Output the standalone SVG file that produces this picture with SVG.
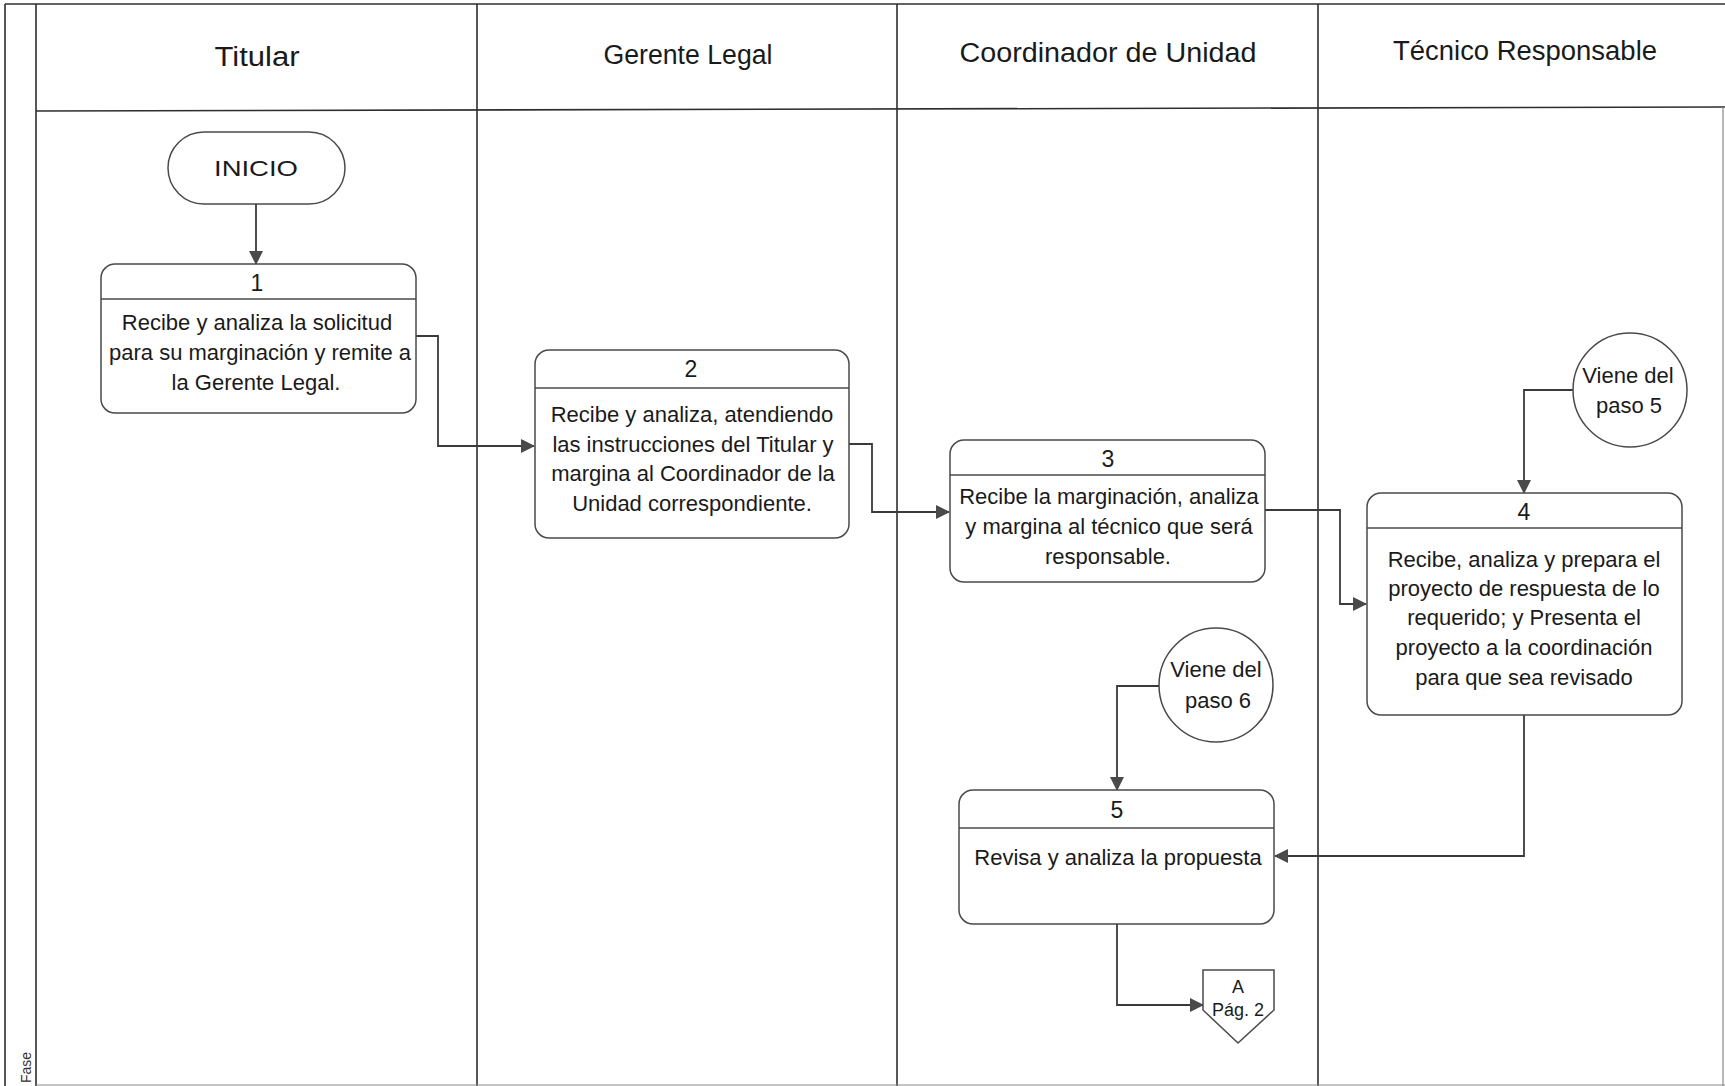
<svg xmlns="http://www.w3.org/2000/svg" width="1725" height="1086" viewBox="0 0 1725 1086">
  <style>
    .lane { stroke: #2e2e2e; stroke-width: 1.6; fill: none; }
    .lane-faint { stroke: #8a8a8a; stroke-width: 1.2; fill: none; }
    .hdr { font-family: "Liberation Sans", Arial, sans-serif; font-size: 27px; fill: #1a1a1a; text-anchor: middle; }
    .box { fill: #ffffff; stroke: #4a4a4a; stroke-width: 1.5; }
    .div { stroke: #4a4a4a; stroke-width: 1.5; }
    .num { font-family: "Liberation Sans", Arial, sans-serif; font-size: 23px; fill: #1a1a1a; text-anchor: middle; }
    .txt { font-family: "Liberation Sans", Arial, sans-serif; font-size: 22px; fill: #1a1a1a; text-anchor: middle; }
    .small { font-family: "Liberation Sans", Arial, sans-serif; font-size: 18px; fill: #1a1a1a; text-anchor: middle; }
    .conn { stroke: #3a3a3a; stroke-width: 1.8; fill: none; }
    .fase { font-family: "Liberation Sans", Arial, sans-serif; font-size: 14px; fill: #333333; }
  </style>
  <defs>
    <marker id="arrow" viewBox="0 0 14 14" refX="13" refY="7" markerWidth="14" markerHeight="14" markerUnits="userSpaceOnUse" orient="auto">
      <path d="M0,0 L14,7 L0,14 z" fill="#4a4a4a"/>
    </marker>
  </defs>

  <rect x="0" y="0" width="1725" height="1086" fill="#ffffff"/>

  <!-- swimlane frame -->
  <g id="frame">
    <line class="lane" x1="5" y1="4" x2="1725" y2="4"/>
    <line class="lane" x1="5" y1="4" x2="5" y2="1086"/>
    <line class="lane" x1="36" y1="4" x2="36" y2="1086"/>
    <line class="lane" x1="36" y1="111" x2="1725" y2="107"/>
    <line class="lane" x1="477" y1="4" x2="477" y2="1086"/>
    <line class="lane" x1="897" y1="4" x2="897" y2="1086"/>
    <line class="lane" x1="1318" y1="4" x2="1318" y2="1086"/>
    <line class="lane-faint" x1="36" y1="1085" x2="1725" y2="1085"/>
    <line class="lane-faint" x1="1723" y1="107" x2="1723" y2="1086"/>
    <text class="fase" transform="translate(31,1083) rotate(-90)">Fase</text>
  </g>

  <!-- lane headers -->
  <g id="headers">
    <text class="hdr" x="257" y="66" textLength="85" lengthAdjust="spacingAndGlyphs">Titular</text>
    <text class="hdr" x="688" y="64" textLength="169" lengthAdjust="spacingAndGlyphs">Gerente Legal</text>
    <text class="hdr" x="1108" y="62" textLength="297" lengthAdjust="spacingAndGlyphs">Coordinador de Unidad</text>
    <text class="hdr" x="1525" y="60" textLength="264" lengthAdjust="spacingAndGlyphs">Técnico Responsable</text>
  </g>

  <!-- connectors -->
  <g id="connectors">
    <path class="conn" d="M256,204 L256,264" marker-end="url(#arrow)"/>
    <path class="conn" d="M416,336 L438,336 L438,446 L534,446" marker-end="url(#arrow)"/>
    <path class="conn" d="M849,444 L872,444 L872,512 L949,512" marker-end="url(#arrow)"/>
    <path class="conn" d="M1265,510 L1340,510 L1340,604 L1366,604" marker-end="url(#arrow)"/>
    <path class="conn" d="M1573,390 L1524,390 L1524,493" marker-end="url(#arrow)"/>
    <path class="conn" d="M1524,715 L1524,856 L1275,856" marker-end="url(#arrow)"/>
    <path class="conn" d="M1160,686 L1117,686 L1117,790" marker-end="url(#arrow)"/>
    <path class="conn" d="M1117,924 L1117,1005 L1203,1005" marker-end="url(#arrow)"/>
  </g>

  <!-- start terminal -->
  <g id="inicio">
    <rect class="box" x="168" y="132" width="177" height="72" rx="36" ry="36"/>
    <text class="txt" x="256" y="176" font-size="24" textLength="84" lengthAdjust="spacingAndGlyphs">INICIO</text>
  </g>

  <!-- step 1 -->
  <g id="step1">
    <rect class="box" x="101" y="264" width="315" height="149" rx="14" ry="14"/>
    <line class="div" x1="101" y1="299" x2="416" y2="299"/>
    <text class="num" x="257" y="291">1</text>
    <text class="txt" x="257" y="330">Recibe y analiza la solicitud</text>
    <text class="txt" x="260" y="360">para su marginación y remite a</text>
    <text class="txt" x="256" y="390">la Gerente Legal.</text>
  </g>

  <!-- step 2 -->
  <g id="step2">
    <rect class="box" x="535" y="350" width="314" height="188" rx="14" ry="14"/>
    <line class="div" x1="535" y1="388" x2="849" y2="388"/>
    <text class="num" x="691" y="377">2</text>
    <text class="txt" x="692" y="422">Recibe y analiza, atendiendo</text>
    <text class="txt" x="693" y="452">las instrucciones del Titular y</text>
    <text class="txt" x="693" y="481">margina al Coordinador de la</text>
    <text class="txt" x="692" y="511">Unidad correspondiente.</text>
  </g>

  <!-- step 3 -->
  <g id="step3">
    <rect class="box" x="950" y="440" width="315" height="142" rx="14" ry="14"/>
    <line class="div" x1="950" y1="475" x2="1265" y2="475"/>
    <text class="num" x="1108" y="467">3</text>
    <text class="txt" x="1109" y="504">Recibe la marginación, analiza</text>
    <text class="txt" x="1109" y="534">y margina al técnico que será</text>
    <text class="txt" x="1108" y="564">responsable.</text>
  </g>

  <!-- step 4 -->
  <g id="step4">
    <rect class="box" x="1367" y="493" width="315" height="222" rx="14" ry="14"/>
    <line class="div" x1="1367" y1="528" x2="1682" y2="528"/>
    <text class="num" x="1524" y="520">4</text>
    <text class="txt" x="1524" y="567">Recibe, analiza y prepara el</text>
    <text class="txt" x="1524" y="596">proyecto de respuesta de lo</text>
    <text class="txt" x="1524" y="625">requerido; y Presenta el</text>
    <text class="txt" x="1524" y="655">proyecto a la coordinación</text>
    <text class="txt" x="1524" y="685">para que sea revisado</text>
  </g>

  <!-- incoming reference from step 5 -->
  <g id="ref-paso5">
    <circle class="box" cx="1630" cy="390" r="57"/>
    <text class="txt" x="1628" y="383">Viene del</text>
    <text class="txt" x="1629" y="413">paso 5</text>
  </g>

  <!-- incoming reference from step 6 -->
  <g id="ref-paso6">
    <circle class="box" cx="1216" cy="685" r="57"/>
    <text class="txt" x="1216" y="677">Viene del</text>
    <text class="txt" x="1218" y="708">paso 6</text>
  </g>

  <!-- step 5 -->
  <g id="step5">
    <rect class="box" x="959" y="790" width="315" height="134" rx="14" ry="14"/>
    <line class="div" x1="959" y1="828" x2="1274" y2="828"/>
    <text class="num" x="1117" y="818">5</text>
    <text class="txt" x="1118" y="865">Revisa y analiza la propuesta</text>
  </g>

  <!-- off-page connector -->
  <g id="offpage-a">
    <path class="box" d="M1203,970 L1274,970 L1274,1010 L1238,1043 L1203,1010 Z"/>
    <text class="small" x="1238" y="993">A</text>
    <text class="small" x="1238" y="1016">Pág. 2</text>
  </g>
</svg>
